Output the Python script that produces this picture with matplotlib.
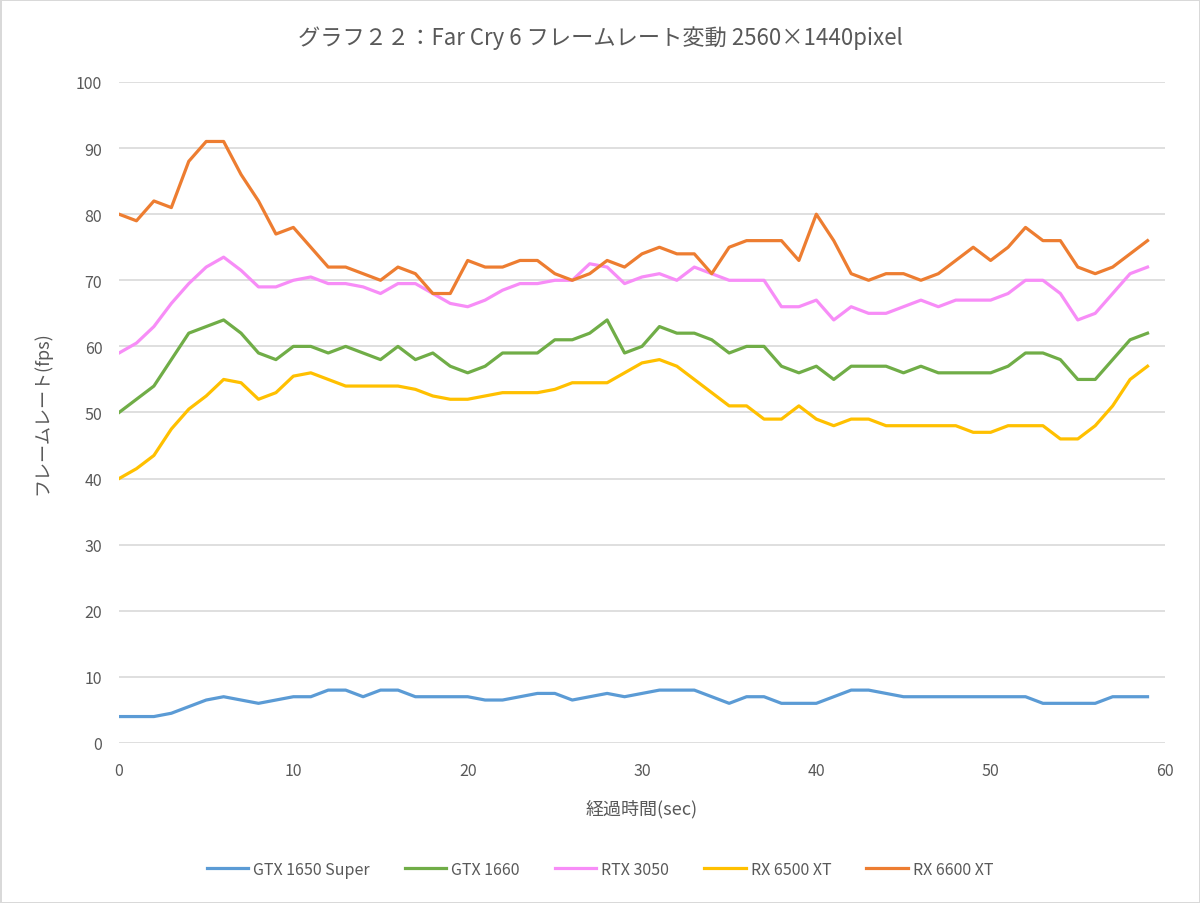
import matplotlib.pyplot as plt

plt.rcParams['font.family'] = ['Noto Sans CJK JP', 'DejaVu Sans']

# 経過時間 (sec)
seconds = list(range(0, 60))

gtx1650s = [4, 4, 4, 4.5, 5.5, 6.5, 7, 6.5, 6, 6.5, 7, 7, 8, 8, 7, 8, 8, 7, 7, 7,
            7, 6.5, 6.5, 7, 7.5, 7.5, 6.5, 7, 7.5, 7, 7.5, 8, 8, 8, 7, 6, 7, 7, 6, 6,
            6, 7, 8, 8, 7.5, 7, 7, 7, 7, 7, 7, 7, 7, 6, 6, 6, 6, 7, 7, 7]
gtx1660 = [50, 52, 54, 58, 62, 63, 64, 62, 59, 58, 60, 60, 59, 60, 59, 58, 60, 58, 59, 57,
           56, 57, 59, 59, 59, 61, 61, 62, 64, 59, 60, 63, 62, 62, 61, 59, 60, 60, 57, 56,
           57, 55, 57, 57, 57, 56, 57, 56, 56, 56, 56, 57, 59, 59, 58, 55, 55, 58, 61, 62]
rtx3050 = [59, 60.5, 63, 66.5, 69.5, 72, 73.5, 71.5, 69, 69, 70, 70.5, 69.5, 69.5, 69, 68, 69.5, 69.5, 68, 66.5,
           66, 67, 68.5, 69.5, 69.5, 70, 70, 72.5, 72, 69.5, 70.5, 71, 70, 72, 71, 70, 70, 70, 66, 66,
           67, 64, 66, 65, 65, 66, 67, 66, 67, 67, 67, 68, 70, 70, 68, 64, 65, 68, 71, 72]
rx6500xt = [40, 41.5, 43.5, 47.5, 50.5, 52.5, 55, 54.5, 52, 53, 55.5, 56, 55, 54, 54, 54, 54, 53.5, 52.5, 52,
            52, 52.5, 53, 53, 53, 53.5, 54.5, 54.5, 54.5, 56, 57.5, 58, 57, 55, 53, 51, 51, 49, 49, 51,
            49, 48, 49, 49, 48, 48, 48, 48, 48, 47, 47, 48, 48, 48, 46, 46, 48, 51, 55, 57]
rx6600xt = [80, 79, 82, 81, 88, 91, 91, 86, 82, 77, 78, 75, 72, 72, 71, 70, 72, 71, 68, 68,
            73, 72, 72, 73, 73, 71, 70, 71, 73, 72, 74, 75, 74, 74, 71, 75, 76, 76, 76, 73,
            80, 76, 71, 70, 71, 71, 70, 71, 73, 75, 73, 75, 78, 76, 76, 72, 71, 72, 74, 76]

series = [
    ('GTX 1650 Super', gtx1650s, '#5b9bd5'),
    ('GTX 1660', gtx1660, '#70ad47'),
    ('RTX 3050', rtx3050, '#f78df7'),
    ('RX 6500 XT', rx6500xt, '#ffc000'),
    ('RX 6600 XT', rx6600xt, '#ed7d31'),
]

text_color = '#595959'
grid_color = '#d9d9d9'

fig = plt.figure(figsize=(12, 9.04), dpi=100, edgecolor=grid_color, linewidth=2)
ax = fig.add_axes([0.0992, 0.177, 0.8716, 0.7312])

for name, values, color in series:
    ax.plot(seconds, values, color=color, linewidth=2.3, label=name, solid_joinstyle='round')

ax.set_xlim(0, 60)
ax.set_ylim(0, 100)
ax.set_xticks(range(0, 61, 10))
ax.set_yticks(range(0, 101, 10))
ax.grid(axis='y', color=grid_color, linewidth=1.2)
ax.set_axisbelow(True)
for side in ['top', 'right', 'left', 'bottom']:
    ax.spines[side].set_visible(False)
ax.tick_params(length=0, labelsize=11.5, labelcolor=text_color)
ax.tick_params(axis='x', pad=14)
ax.tick_params(axis='y', pad=12)

ax.set_xlabel('経過時間(sec)', fontsize=13, color=text_color, labelpad=14)
ax.set_ylabel('フレームレート(fps)', fontsize=13, color=text_color, labelpad=18)
fig.text(0.5, 0.958, 'グラフ２２：Far Cry 6 フレームレート変動 2560×1440pixel',
         ha='center', va='center', fontsize=16, color=text_color)

fig.legend(loc='center', bbox_to_anchor=(0.5, 0.037), ncol=5, frameon=False,
           fontsize=11.5, labelcolor=text_color, handlelength=2.6,
           handletextpad=0.3, columnspacing=2.2)

fig.savefig('out.png', dpi=100, edgecolor=fig.get_edgecolor())
